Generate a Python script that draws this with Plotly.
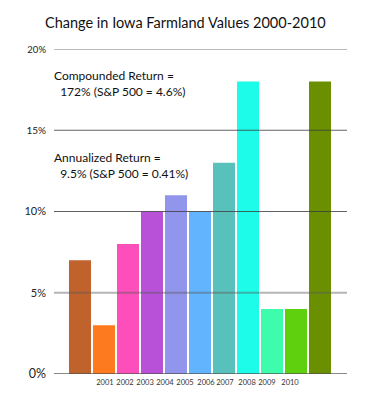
import plotly.graph_objects as go

years = ["2000", "2001", "2002", "2003", "2004", "2005", "2006", "2007", "2008", "2009", "2010"]
changes = [7, 3, 8, 10, 11, 10, 13, 18, 4, 4, 18]
bar_colors = ["#c0622b", "#fe7a1e", "#fd4fbb", "#b851d7", "#9295ec", "#62b4fe",
              "#59c1bc", "#1cfce8", "#3dfdac", "#5fd00e", "#6a8f00"]
x_tick_labels = ["2001", "2002", "2003", "2004", "2005", "2006", "2007", "2008", "2009", "2010"]
y_ticks = [0, 5, 10, 15, 20]
y_tick_labels = ["0%", "5%", "10%", "15%", "20%"]

FONT = "Lato"

# plot area in pixels
L, R, T, B = 54, 347, 49, 374
def px(x):
    return (x - L) / (R - L)
def py(y):
    return (B - y) / (B - T)

fig = go.Figure()
fig.add_trace(go.Bar(
    x=list(range(len(years))), y=changes,
    marker=dict(color=bar_colors, line=dict(width=0)),
    hovertext=years, showlegend=False,
))

label_pos = [1.04, 1.875, 2.71, 3.54, 4.375, 5.25, 6.04, 6.96, 7.79, 8.75]

label_sizes = {0: 12.5, 5: 11, 10: 11, 15: 10, 20: 9.5}
y_text = [f'<span style="font-size:{label_sizes[v]}px">{t}</span>'
          for v, t in zip(y_ticks, y_tick_labels)]

grid_styles = {
    0: dict(color="rgba(80,80,80,0.9)", width=1.5),
    5: dict(color="rgba(90,90,90,0.45)", width=2),
    10: dict(color="rgba(60,60,60,0.8)", width=1.2),
    15: dict(color="rgba(60,60,60,0.8)", width=1.2),
    20: dict(color="rgba(0,0,0,0.27)", width=2),
}
shapes = []
for v in y_ticks:
    shapes.append(dict(type="line", xref="paper", yref="y", x0=0, x1=1, y0=v, y1=v,
                       line=grid_styles[v], layer="above"))

fig.update_layout(
    width=375, height=400,
    margin=dict(l=L, r=375 - R, t=T, b=400 - B),
    paper_bgcolor="white", plot_bgcolor="white",
    bargap=1/12,
    font=dict(family=FONT, color="#222"),
    xaxis=dict(range=[-1.083, 11.125], tickmode="array", tickvals=label_pos,
               ticktext=x_tick_labels, tickfont=dict(size=7.5, color="#333"), tickangle=0,
               showgrid=False, zeroline=False, showline=False, ticks="", ticklabelstandoff=2,
               automargin=False),
    yaxis=dict(range=[0, 20], tickmode="array", tickvals=y_ticks, ticktext=y_text,
               tickfont=dict(size=11, color="#222"), showgrid=False, zeroline=False,
               showline=False, ticks="", ticklabelstandoff=7, automargin=False),
    shapes=shapes,
    annotations=[
        dict(text="Change in Iowa Farmland Values 2000-2010", xref="paper", yref="paper",
             x=px(43), y=py(23), xanchor="left", yanchor="middle", showarrow=False,
             font=dict(size=14.5, color="#111", family=FONT)),
        dict(text="Compounded Return =<br>  172% (S&P 500 = 4.6%)", xref="paper", yref="paper",
             x=px(52), y=py(84), xanchor="left", yanchor="middle", showarrow=False,
             align="left", font=dict(size=12, color="#111", family=FONT)),
        dict(text="Annualized Return =<br>  9.5% (S&P 500 = 0.41%)", xref="paper", yref="paper",
             x=px(52), y=py(165), xanchor="left", yanchor="middle", showarrow=False,
             align="left", font=dict(size=12, color="#111", family=FONT)),
    ],
)
fig.write_html("out.html", post_script="document.body.style.margin='0';",
               config={"displayModeBar": False})
